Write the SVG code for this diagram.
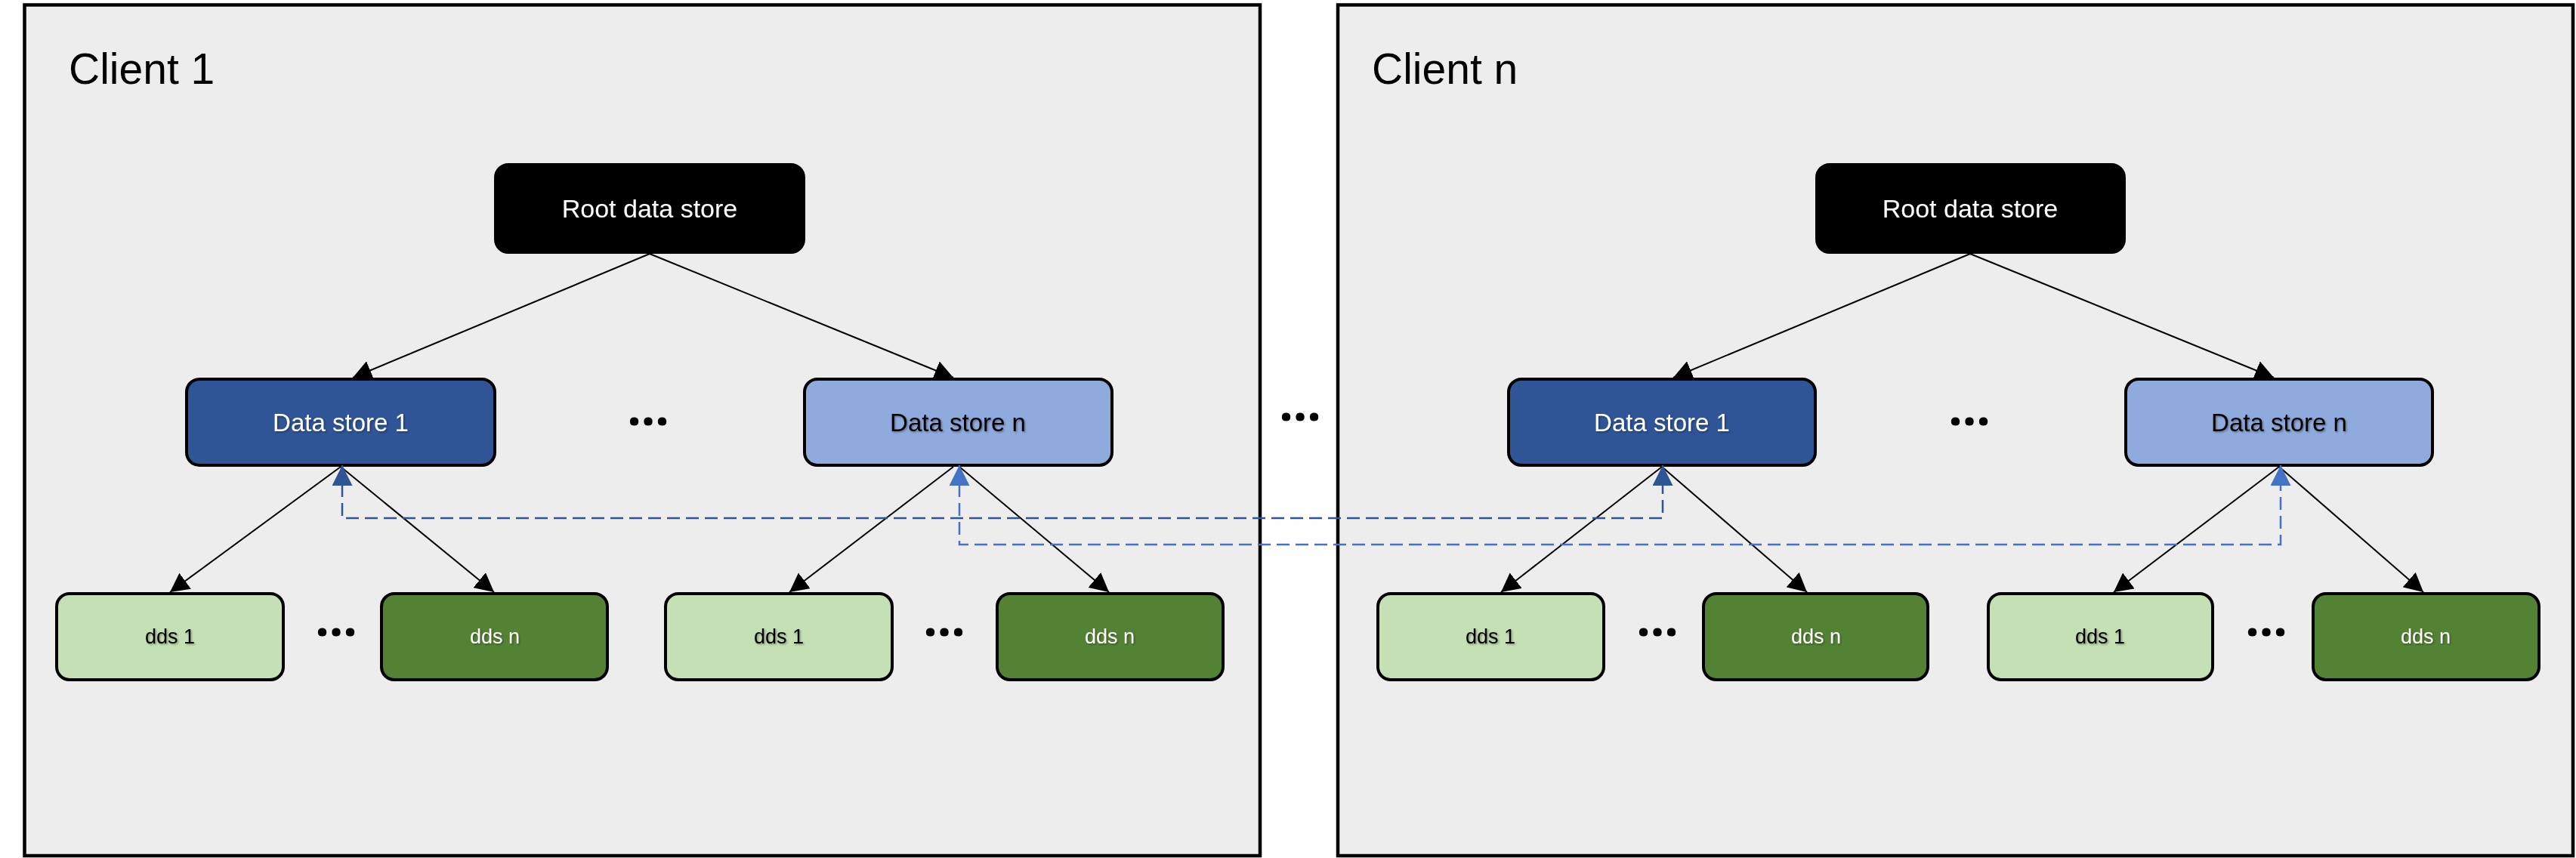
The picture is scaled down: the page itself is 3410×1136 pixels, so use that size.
<svg xmlns="http://www.w3.org/2000/svg" width="3410" height="1136" viewBox="0 0 3410 1136">
<defs>
<style>
.client{fill:#EDEDED;stroke:#000;stroke-width:4.5}
.node{stroke:#000;stroke-width:4}
.root{fill:#000}
.ds1{fill:#2F5597}
.dsn{fill:#8FAADC}
.dds1{fill:#C5E0B4}
.ddsn{fill:#548235}
.t{font-family:"Liberation Sans",Arial,sans-serif;text-anchor:middle}
.lbl{font-family:"Liberation Sans",Arial,sans-serif;font-size:57px;fill:#000}
.big{font-size:33px}
.small{font-size:27px}
.w{fill:#fff}
.k{fill:#000}
.sh{filter:url(#shadow)}
.dots{font-family:"Noto Sans","Open Sans",sans-serif;font-weight:bold;font-size:66px;text-anchor:middle;fill:#000}
.conn{stroke:#000;stroke-width:2;fill:none;marker-end:url(#ah)}
.d1{stroke:#2F5597;stroke-width:2.5;fill:none;stroke-dasharray:17 8;marker-start:url(#b1);marker-end:url(#b1)}
.d2{stroke:#4472C4;stroke-width:2.5;fill:none;stroke-dasharray:17 8;marker-start:url(#b2);marker-end:url(#b2)}
</style>
<filter id="shadow" x="-10%" y="-30%" width="120%" height="160%">
<feDropShadow dx="1.5" dy="1.5" stdDeviation="1" flood-color="#000" flood-opacity="0.35"/>
</filter>
<marker id="ah" markerUnits="userSpaceOnUse" markerWidth="26" markerHeight="26" refX="25" refY="13" orient="auto">
<path d="M0,0 L25,13 L0,26 z" fill="#000"/>
</marker>
<marker id="b1" markerUnits="userSpaceOnUse" markerWidth="27" markerHeight="27" refX="27" refY="13.5" orient="auto-start-reverse">
<path d="M0,0 L27,13.5 L0,27 z" fill="#2F5597"/>
</marker>
<marker id="b2" markerUnits="userSpaceOnUse" markerWidth="27" markerHeight="27" refX="27" refY="13.5" orient="auto-start-reverse">
<path d="M0,0 L27,13.5 L0,27 z" fill="#4472C4"/>
</marker>
</defs>
<rect width="3410" height="1136" fill="#fff"/>

<g id="client1">
<rect class="client" x="32.5" y="6.5" width="1635.5" height="1126.5"/>
<text class="lbl" x="91" y="111">Client 1</text>
</g>
<g id="clientn">
<rect class="client" x="1771" y="6.5" width="1635" height="1126.5"/>
<text class="lbl" x="1816" y="111">Client n</text>
</g>

<text id="dots-clients" class="dots" x="1721" y="557">...</text>

<g id="c1-root"><rect class="node root" x="656" y="218" width="408" height="116" rx="17"/><text class="t big w sh" x="860" y="288" style="font-size:34px">Root data store</text></g>
<g id="c1-ds1"><rect class="node ds1" x="247" y="502" width="408" height="114" rx="17"/><text class="t big w sh" x="451" y="571">Data store 1</text></g>
<g id="c1-dsn"><rect class="node dsn" x="1065" y="502" width="407" height="114" rx="17"/><text class="t big k sh" x="1268" y="571">Data store n</text></g>
<text id="c1-dots-ds" class="dots" x="858" y="563">...</text>
<g id="c1-a-dds1"><rect class="node dds1" x="75" y="786" width="300" height="114" rx="17"/><text class="t small k sh" x="225" y="852">dds 1</text></g>
<g id="c1-a-ddsn"><rect class="node ddsn" x="505" y="786" width="299" height="114" rx="17"/><text class="t small w sh" x="655" y="852">dds n</text></g>
<text id="c1-a-dots" class="dots" x="445" y="842">...</text>
<g id="c1-b-dds1"><rect class="node dds1" x="881" y="786" width="300" height="114" rx="17"/><text class="t small k sh" x="1031" y="852">dds 1</text></g>
<g id="c1-b-ddsn"><rect class="node ddsn" x="1320" y="786" width="299" height="114" rx="17"/><text class="t small w sh" x="1469" y="852">dds n</text></g>
<text id="c1-b-dots" class="dots" x="1250" y="842">...</text>

<g id="cn-root"><rect class="node root" x="2405" y="218" width="407" height="116" rx="17"/><text class="t big w sh" x="2608" y="288" style="font-size:34px">Root data store</text></g>
<g id="cn-ds1"><rect class="node ds1" x="1997" y="502" width="406" height="114" rx="17"/><text class="t big w sh" x="2200" y="571">Data store 1</text></g>
<g id="cn-dsn"><rect class="node dsn" x="2814" y="502" width="406" height="114" rx="17"/><text class="t big k sh" x="3017" y="571">Data store n</text></g>
<text id="cn-dots-ds" class="dots" x="2607" y="563">...</text>
<g id="cn-a-dds1"><rect class="node dds1" x="1824" y="786" width="299" height="114" rx="17"/><text class="t small k sh" x="1973" y="852">dds 1</text></g>
<g id="cn-a-ddsn"><rect class="node ddsn" x="2255" y="786" width="297" height="114" rx="17"/><text class="t small w sh" x="2404" y="852">dds n</text></g>
<text id="cn-a-dots" class="dots" x="2194" y="842">...</text>
<g id="cn-b-dds1"><rect class="node dds1" x="2632" y="786" width="297" height="114" rx="17"/><text class="t small k sh" x="2780" y="852">dds 1</text></g>
<g id="cn-b-ddsn"><rect class="node ddsn" x="3062" y="786" width="299" height="114" rx="17"/><text class="t small w sh" x="3211" y="852">dds n</text></g>
<text id="cn-b-dots" class="dots" x="3000" y="842">...</text>

<g id="connectors">
<path class="conn" d="M860,336 L467,500"/>
<path class="conn" d="M860,336 L1262,500"/>
<path class="conn" d="M451,618 L225,784"/>
<path class="conn" d="M451,618 L654,784"/>
<path class="conn" d="M1262,618 L1045,784"/>
<path class="conn" d="M1270,618 L1468,784"/>
<path class="conn" d="M2608,336 L2215,500"/>
<path class="conn" d="M2608,336 L3010,500"/>
<path class="conn" d="M2200,618 L1987,784"/>
<path class="conn" d="M2200,618 L2392,784"/>
<path class="conn" d="M3017,618 L2798,784"/>
<path class="conn" d="M3017,618 L3208,784"/>
<path class="d1" d="M453,616 L453,686 L2201,686 L2201,616"/>
<path class="d2" d="M1270,616 L1270,721 L3019,721 L3019,616"/>
</g>
</svg>
